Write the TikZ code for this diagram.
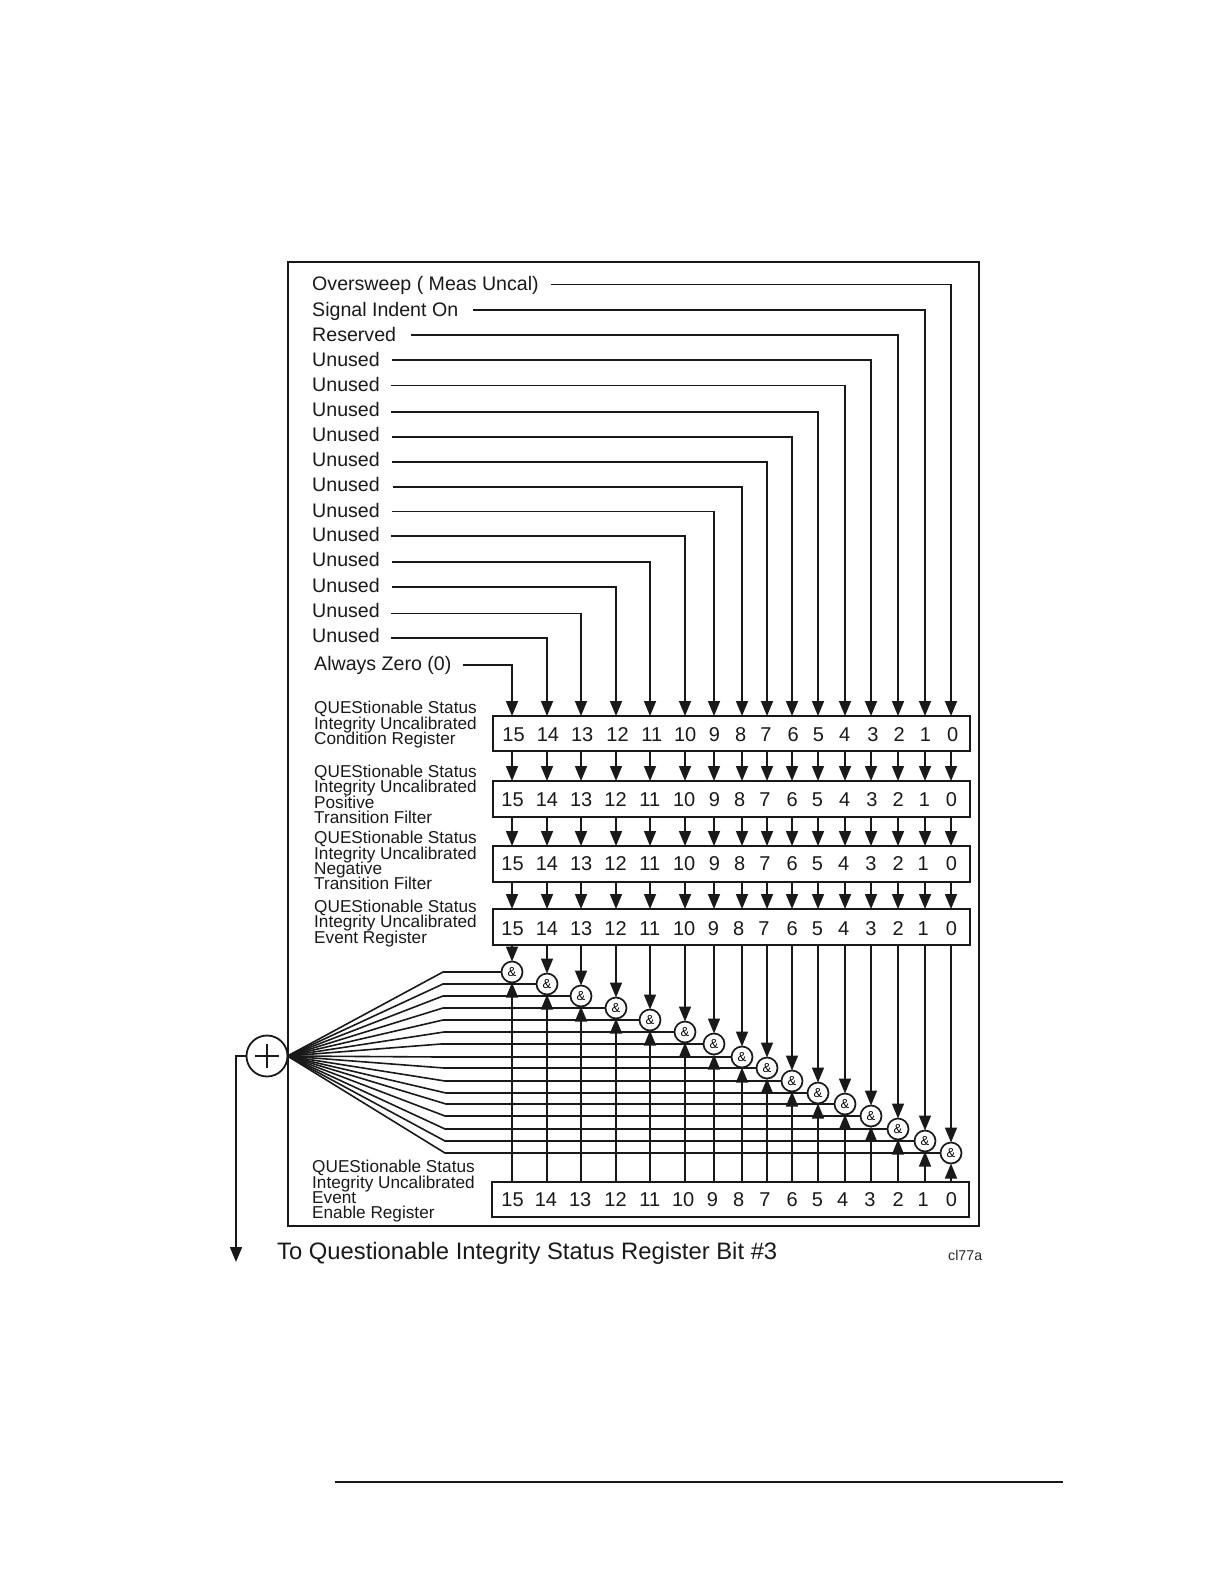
\documentclass[tikz,border=0pt]{standalone}
\usepackage{fontspec}
\setmainfont{Liberation Sans}
\usetikzlibrary{arrows.meta}
\tikzset{
  ln/.style={line width=1.6pt,draw=black!90},
  arr/.style={ln,-{Triangle[width=12pt,length=15pt]}},
  regbox/.style={draw=black!90,line width=1.9pt,fill=white,inner sep=0pt,outer sep=0pt,minimum height=35pt},
  andgate/.style={circle,draw=black!90,line width=1.7pt,fill=white,minimum size=21pt,inner sep=0pt,outer sep=0pt,font=\fontsize{13}{13}\selectfont},
  toplab/.style={anchor=base west,inner sep=0pt,font=\fontsize{19.6}{20}\selectfont,text=black!90},
  reglab/.style={anchor=base west,inner sep=0pt,font=\fontsize{17.2}{17}\selectfont,text=black!90},
  digit/.style={anchor=base,inner sep=0pt,font=\fontsize{20}{20}\selectfont,text=black!90}
}
\begin{document}
\begin{tikzpicture}[x=1pt,y=-1pt]
\useasboundingbox (0,0) rectangle (1224,1582);
% outer frame and bottom rule
\node[draw=black!90,line width=2pt,minimum width=691pt,minimum height=964pt,inner sep=0pt,outer sep=0pt] (frame) at (633.5,744) {};
\coordinate (ruleL) at (335,1482); \coordinate (ruleR) at (1063,1482);
\draw[line width=1.8pt,draw=black!90] (ruleL) -- (ruleR);
% columns
\foreach \b/\x in {15/512,14/547,13/581,12/616,11/650,10/685,9/714,8/742,7/767,6/792,5/818,4/845,3/871,2/898,1/925,0/951}
  \coordinate (col\b) at (\x,0);
% registers
\node[regbox,minimum width=477pt] (reg1) at (731.5,733.5) {};
\node[regbox,minimum width=477pt,minimum height=36pt] (reg2) at (731.5,799) {};
\node[regbox,minimum width=477pt,minimum height=36pt] (reg3) at (731.5,864) {};
\node[regbox,minimum width=477pt,minimum height=36pt] (reg4) at (731.5,927) {};
\node[regbox,minimum width=477pt] (reg5) at (730.5,1199.5) {};
% digits
\foreach \b/\x in {15/509,14/543,13/577,12/612,11/646,10/679,9/708,8/734,7/759,6/786,5/811,4/837,3/865,2/891,1/917,0/944}
  \node[digit] (da\b) at ({\x*1.00907},741) {\b};
\foreach \b/\x in {15/508,14/542,13/576,12/610,11/644,10/678,9/708,8/733,7/758,6/785,5/810,4/837,3/864,2/890,1/916,0/943}
  \node[digit] (db\b) at ({\x*1.00907},806) {\b};
\foreach \b/\x in {15/508,14/542,13/576,12/610,11/644,10/678,9/708,8/733,7/758,6/785,5/810,4/836,3/863,2/890,1/915,0/943}
  \node[digit] (dc\b) at ({\x*1.00907},870) {\b};
\foreach \b/\x in {15/508,14/542,13/576,12/610,11/644,10/678,9/707,8/732,7/757,6/785,5/810,4/836,3/863,2/890,1/915,0/943}
  \node[digit] (dd\b) at ({\x*1.00907},935) {\b};
\foreach \b/\x in {15/508,14/541,13/575,12/610,11/644,10/677,9/706,8/732,7/758,6/785,5/810,4/835,3/862,2/890,1/915,0/943}
  \node[digit] (de\b) at ({\x*1.00907},1206) {\b};
% top labels and their connectors
\foreach \b/\t/\y/\sx/\ty in {
  0/{Oversweep ( Meas Uncal)}/284.5/551/290.5,
  1/{Signal Indent On}/309.8/473/316,
  2/{Reserved}/335/411/341,
  3/{Unused}/360/391.5/366,
  4/{Unused}/385.5/390.5/391,
  5/{Unused}/411.7/390.5/416.5,
  6/{Unused}/437/391.5/441.5,
  7/{Unused}/462/391.5/466.5,
  8/{Unused}/487/392.5/491.5,
  9/{Unused}/511.6/391.5/517,
  10/{Unused}/536/390.5/541.5,
  11/{Unused}/562/391.5/566.5,
  12/{Unused}/587/391.5/592,
  13/{Unused}/613.5/390.5/617,
  14/{Unused}/638/390.5/642}
{
  \coordinate (s\b) at (\sx,\y);
  \node[toplab] (lab\b) at (312,\ty) {\t};
  \draw[arr] (s\b) -| (col\b |- reg1.north);
}
\node[toplab] (lab15) at (314,670.5) {Always Zero (0)};
\coordinate (s15) at (463,665);
\draw[arr] (s15) -| (col15 |- reg1.north);
% register labels
\node[reglab] (q1a) at (314,713) {QUEStionable Status};
\node[reglab] (q1b) at (314,729) {Integrity Uncalibrated};
\node[reglab] (q1c) at (314,744) {Condition Register};
\node[reglab] (q2a) at (314,777) {QUEStionable Status};
\node[reglab] (q2b) at (314,792) {Integrity Uncalibrated};
\node[reglab] (q2c) at (314,808) {Positive};
\node[reglab] (q2d) at (314,823) {Transition Filter};
\node[reglab] (q3a) at (314,843) {QUEStionable Status};
\node[reglab] (q3b) at (314,859) {Integrity Uncalibrated};
\node[reglab] (q3c) at (314,874) {Negative};
\node[reglab] (q3d) at (314,889) {Transition Filter};
\node[reglab] (q4a) at (314,912) {QUEStionable Status};
\node[reglab] (q4b) at (314,927) {Integrity Uncalibrated};
\node[reglab] (q4c) at (314,943) {Event Register};
\node[reglab] (q5a) at (312,1172) {QUEStionable Status};
\node[reglab] (q5b) at (312,1188) {Integrity Uncalibrated};
\node[reglab] (q5c) at (312,1203) {Event};
\node[reglab] (q5d) at (312,1218) {Enable Register};
% OR symbol
\node[circle,draw=black!90,line width=1.8pt,fill=white,minimum size=41pt,inner sep=0pt,outer sep=0pt] (orgate) at (267,1056) {};
\draw[line width=2.4pt,draw=black!90] ([xshift=-12pt]orgate.center) -- ([xshift=12pt]orgate.center);
\draw[line width=2.4pt,draw=black!90] ([yshift=-12pt]orgate.center) -- ([yshift=12pt]orgate.center);
% reg-to-reg arrows
\foreach \b in {15,14,...,0}{
  \draw[arr] (col\b |- reg1.south) -- (col\b |- reg2.north);
  \draw[arr] (col\b |- reg2.south) -- (col\b |- reg3.north);
  \draw[arr] (col\b |- reg3.south) -- (col\b |- reg4.north);
}
% AND gates with fan
\foreach \b/\y/\ex in {15/972/443,14/984/443,13/996/443,12/1008/443,11/1020/443,10/1032/444,9/1044/441,8/1057/441,7/1068/444,6/1081/445,5/1093/446,4/1104/446,3/1116/445,2/1129/445,1/1141/445,0/1153/445}
{
  \node[andgate] (and\b) at (col\b |- 0,\y) {\&};
  \coordinate (elb\b) at (\ex,\y);
  \draw[ln] (orgate.east) -- (elb\b) -- (and\b.west);
}
\foreach \b in {15,14,...,0}{
  \draw[arr] (col\b |- reg4.south) -- (and\b.north);
  \draw[arr] (col\b |- reg5.north) -- (and\b.south);
}
% output
\coordinate (outEnd) at (236,1262);
\draw[arr] (orgate.west) -| (outEnd);
\node[anchor=base west,inner sep=0pt,font=\fontsize{23.8}{24}\selectfont,text=black!90] (tolab) at (277,1259) {To Questionable Integrity Status Register Bit \#3};
\node[anchor=base west,inner sep=0pt,font=\fontsize{14.2}{15}\selectfont,text=black!85] (cl) at (948,1260) {cl77a};
\end{tikzpicture}
\end{document}
